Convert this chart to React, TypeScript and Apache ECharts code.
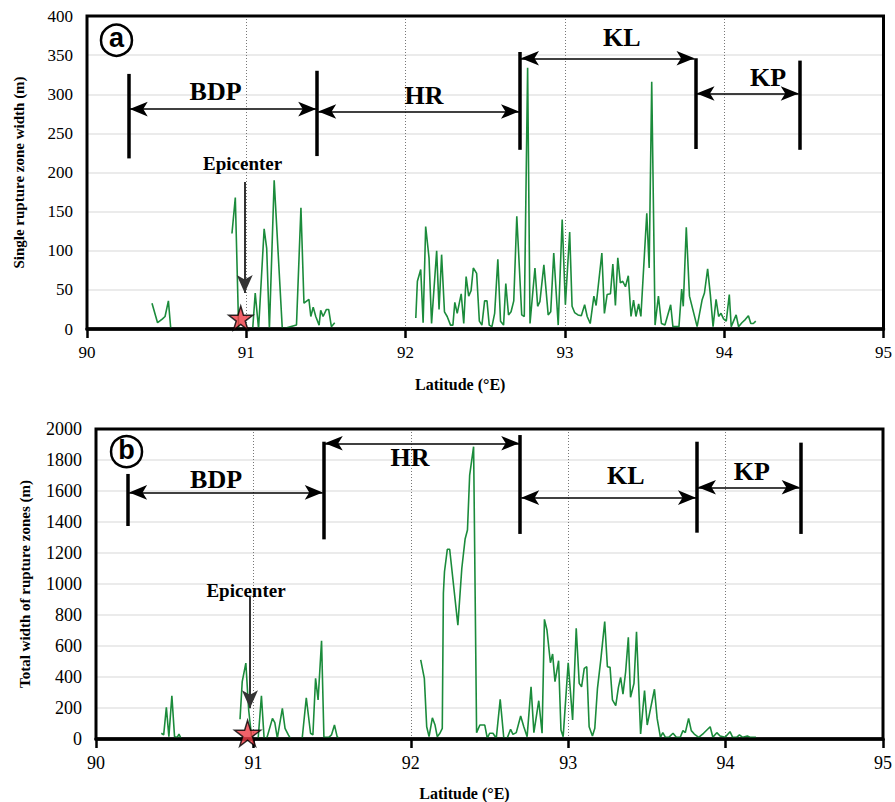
import React, { useEffect, useRef } from 'react';
import * as echarts from 'echarts';

// ---------- (a) Single rupture zone width ----------
const latA: number[] = [
  90.408, 90.443, 90.474, 90.49, 90.511, 90.526, 90.7,
  90.91, 90.931, 90.952, 91.04, 91.056, 91.077, 91.112, 91.128, 91.145, 91.175, 91.226, 91.315,
  91.343, 91.362, 91.393, 91.405, 91.42, 91.436, 91.457, 91.467, 91.482, 91.503, 91.517, 91.534, 91.555, 91.8,
  92.064, 92.074, 92.095, 92.11, 92.126, 92.147, 92.163, 92.195, 92.21, 92.226, 92.244, 92.261, 92.282, 92.297,
  92.309, 92.324, 92.349, 92.365, 92.38, 92.396, 92.411, 92.425, 92.446, 92.463, 92.479, 92.496, 92.511, 92.525,
  92.542, 92.559, 92.579, 92.596, 92.615, 92.629, 92.646, 92.662, 92.679, 92.698, 92.729, 92.745, 92.766, 92.781,
  92.812, 92.829, 92.843, 92.868, 92.895, 92.911, 92.93, 92.958, 92.983, 93.003, 93.03, 93.045, 93.061, 93.082,
  93.103, 93.124, 93.14, 93.159, 93.182, 93.196, 93.232, 93.248, 93.265, 93.286, 93.301, 93.317, 93.332, 93.348,
  93.363, 93.38, 93.398, 93.415, 93.431, 93.446, 93.463, 93.477, 93.514, 93.529, 93.545, 93.566, 93.587, 93.606,
  93.628, 93.664, 93.678, 93.716, 93.733, 93.743, 93.762, 93.782, 93.83, 93.861, 93.876, 93.896, 93.913, 93.93,
  93.949, 93.965, 93.98, 93.996, 94.013, 94.032, 94.044, 94.075, 94.09, 94.111, 94.132, 94.152, 94.167, 94.183, 94.198,
];
const widthA: (number | null)[] = [
  33, 8, 13, 16, 36, 0, null,
  122, 168, 0, 0, 46, 0, 128, 103, 0, 190, 0, 5,
  155, 33, 38, 16, 28, 16, 5, 24, 16, 25, 25, 3, 8, null,
  14, 61, 76, 8, 131, 91, 7, 100, 25, 95, 22, 16, 5, 5,
  34, 20, 45, 7, 67, 42, 49, 78, 71, 10, 5, 36, 36, 5,
  3, 20, 89, 10, 5, 58, 18, 22, 36, 144, 18, 16, 334, 7,
  78, 29, 35, 82, 18, 22, 97, 5, 140, 31, 124, 29, 21, 18,
  17, 31, 16, 7, 42, 30, 97, 20, 44, 45, 83, 30, 91, 59,
  61, 54, 68, 16, 37, 16, 32, 16, 148, 78, 316, 5, 42, 7,
  5, 31, 3, 3, 51, 29, 130, 42, 3, 37, 46, 77, 44, 3,
  38, 16, 20, 13, 10, 44, 3, 18, 3, 8, 12, 17, 7, 7, 10,
];

// ---------- (b) Total width of rupture zones ----------
const latB: number[] = [
  90.415, 90.43, 90.447, 90.463, 90.482, 90.499, 90.516, 90.527, 90.542, 90.7,
  90.915, 90.929, 90.952, 90.97, 90.99, 91.03, 91.051, 91.068, 91.085, 91.121, 91.136, 91.152, 91.184, 91.201,
  91.222, 91.237, 91.27,
  91.31, 91.336, 91.363, 91.378, 91.395, 91.411, 91.433, 91.448, 91.479, 91.496, 91.515, 91.532, 91.547, 91.8,
  92.063, 92.086, 92.101, 92.116, 92.137, 92.154, 92.168, 92.185, 92.2, 92.207, 92.214, 92.232, 92.247, 92.299,
  92.324, 92.345, 92.36, 92.374, 92.399, 92.418, 92.439, 92.47, 92.486, 92.501, 92.522, 92.543, 92.568, 92.591,
  92.612, 92.634, 92.649, 92.67, 92.698, 92.718, 92.739, 92.764, 92.782, 92.813, 92.834, 92.849, 92.865, 92.887,
  92.901, 92.916, 92.939, 92.954, 92.968, 93.0, 93.028, 93.051, 93.07, 93.085, 93.102, 93.118, 93.133, 93.154,
  93.169, 93.186, 93.207, 93.232, 93.249, 93.266, 93.281, 93.302, 93.319, 93.333, 93.348, 93.365, 93.382, 93.396,
  93.418, 93.434, 93.46, 93.485, 93.502, 93.548, 93.565, 93.586, 93.601, 93.618, 93.639, 93.666, 93.687, 93.712,
  93.729, 93.744, 93.765, 93.782, 93.801, 93.829, 93.86, 93.902, 93.919, 93.944, 93.965, 93.997, 94.028, 94.045,
  94.07, 94.088, 94.109, 94.138, 94.155, 94.193,
];
const widthB: (number | null)[] = [
  37, 26, 204, 15, 279, 15, 11, 32, 0, null,
  127, 370, 490, 187, 0, 0, 279, 5, 5, 133, 105, 5, 198, 69,
  26, 0, null,
  5, 266, 37, 26, 392, 252, 634, 11, 11, 26, 90, 15, 0, null,
  510, 391, 79, 15, 137, 90, 15, 37, 69, 940, 1079, 1224, 1224, 735,
  1100, 1290, 1348, 1703, 1886, 41, 90, 90, 5, 37, 37, 5, 256, 5,
  5, 63, 30, 41, 148, 79, 15, 337, 41, 247, 37, 772, 703, 492,
  548, 370, 505, 58, 15, 492, 123, 714, 359, 337, 456, 466, 79, 19,
  69, 327, 510, 757, 466, 462, 252, 215, 333, 398, 290, 434, 656, 269,
  359, 692, 32, 312, 90, 321, 133, 11, 41, 11, 11, 37, 11, 11,
  54, 41, 133, 54, 32, 11, 37, 79, 11, 41, 19, 11, 47, 11,
  11, 26, 11, 19, 11, 11,
];

const epicenterA = [90.965, 14];
const epicenterB = [90.963, 37];

// segment boundaries (lat) and their annotation heights
const boundsA = [
  { x: 90.262, y1: 218, y2: 326 },
  { x: 91.445, y1: 221, y2: 330 },
  { x: 92.718, y1: 229, y2: 354 },
  { x: 93.82, y1: 230, y2: 346 },
  { x: 94.474, y1: 229, y2: 343 },
];
const arrowsA = [
  { from: 90.262, to: 91.445, y: 281 },
  { from: 91.445, to: 92.718, y: 278 },
  { from: 92.718, to: 93.82, y: 346 },
  { from: 93.82, to: 94.474, y: 301 },
];
const labelsA = [
  { text: 'BDP', x: 90.807, y: 304 },
  { text: 'HR', x: 92.116, y: 299 },
  { text: 'KL', x: 93.357, y: 372 },
  { text: 'KP', x: 94.275, y: 322 },
];
const boundsB = [
  { x: 90.204, y1: 1374, y2: 1710 },
  { x: 91.447, y1: 1288, y2: 1918 },
  { x: 92.695, y1: 1323, y2: 1961 },
  { x: 93.818, y1: 1331, y2: 1918 },
  { x: 94.477, y1: 1323, y2: 1912 },
];
const arrowsB = [
  { from: 90.204, to: 91.447, y: 1591 },
  { from: 91.447, to: 92.695, y: 1908 },
  { from: 92.695, to: 93.818, y: 1557 },
  { from: 93.818, to: 94.477, y: 1624 },
];
const labelsB = [
  { text: 'BDP', x: 90.763, y: 1671 },
  { text: 'HR', x: 91.995, y: 1814 },
  { text: 'KL', x: 93.366, y: 1703 },
  { text: 'KP', x: 94.166, y: 1725 },
];

const SERIF = "'Liberation Serif', 'Times New Roman', serif";
const GREEN = '#1b8b3b';
const STAR = 'path://M50,0 L61,35 L98,35 L68,57 L79,91 L50,70 L21,91 L32,57 L2,35 L39,35 Z';

function toPairs(xs: number[], ys: (number | null)[]) {
  return xs.map((x, i) => [x, ys[i] == null ? '-' : ys[i]]);
}

function buildMarkLines(bounds: any[], arrows: any[], tip: number, epi: { x: number; y1: number; y2: number }) {
  const data: any[] = [];
  bounds.forEach((b) => {
    data.push([
      { coord: [b.x, b.y1], symbol: 'none', lineStyle: { color: '#000', width: 3.5, type: 'solid' } },
      { coord: [b.x, b.y2], symbol: 'none', lineStyle: { color: '#000', width: 3.5, type: 'solid' } },
    ]);
  });
  arrows.forEach((a) => {
    data.push([
      { coord: [a.from + tip, a.y], symbol: 'arrow', symbolSize: [11, 18], lineStyle: { color: '#000', width: 1.5, type: 'solid' } },
      { coord: [a.to - tip, a.y], symbol: 'arrow', symbolSize: [11, 18], lineStyle: { color: '#000', width: 1.5, type: 'solid' } },
    ]);
  });
  data.push([
    { coord: [epi.x, epi.y1], symbol: 'none', lineStyle: { color: '#333', width: 2, type: 'solid' } },
    { coord: [epi.x, epi.y2], symbol: 'arrow', symbolSize: [12, 18], lineStyle: { color: '#333', width: 2, type: 'solid' } },
  ]);
  return data;
}

function textPoint(text: string, x: number, y: number, size: number) {
  return {
    coord: [x, y],
    symbol: 'circle',
    symbolSize: 1,
    itemStyle: { color: 'rgba(0,0,0,0)' },
    label: {
      show: true,
      position: 'inside',
      formatter: text,
      fontFamily: SERIF,
      fontWeight: 'bold',
      fontSize: size,
      color: '#000',
    },
  };
}

function circlePoint(letter: string, x: number, y: number) {
  return {
    coord: [x, y],
    symbol: 'circle',
    symbolSize: 31,
    itemStyle: { color: '#fff', borderColor: '#000', borderWidth: 2.5 },
    label: {
      show: true,
      position: 'inside',
      formatter: letter,
      fontFamily: "'Liberation Sans', Arial, sans-serif",
      fontWeight: 'bold',
      fontSize: 27,
      color: '#000',
      offset: [0, -2],
    },
  };
}

function xAxisCfg(gridIndex: number, nameGap: number, labelSize: number) {
  return {
    type: 'value',
    gridIndex,
    min: 90,
    max: 95,
    interval: 1,
    name: 'Latitude (°E)',
    nameLocation: 'middle',
    nameGap,
    nameTextStyle: { fontFamily: SERIF, fontWeight: 'bold', fontSize: 16, color: '#000', padding: [0, 50, 0, 0] },
    axisLine: { show: true, lineStyle: { color: '#000', width: 3.5 } },
    axisTick: { show: true, inside: false, length: 9, lineStyle: { color: '#000', width: 2.5 } },
    axisLabel: { fontFamily: SERIF, fontSize: labelSize, color: '#000', margin: 15, formatter: (v: number) => String(v) },
    splitLine: { show: true, lineStyle: { color: '#777', width: 1, type: [1, 2] } },
  };
}

function yAxisCfg(gridIndex: number, max: number, interval: number, name: string, nameGap: number, labelSize: number) {
  return {
    type: 'value',
    gridIndex,
    min: 0,
    max,
    interval,
    name,
    nameLocation: 'middle',
    nameGap,
    nameTextStyle: { fontFamily: SERIF, fontWeight: 'bold', fontSize: 15, color: '#000' },
    axisLine: { show: false },
    axisTick: { show: false },
    axisLabel: { fontFamily: SERIF, fontSize: labelSize, color: '#000', margin: 14, formatter: (v: number) => String(v) },
    splitLine: { show: true, lineStyle: { color: '#e4e4e4', width: 1.5 } },
  };
}

export default function App() {
  const ref = useRef<HTMLDivElement>(null);
  useEffect(() => {
    if (!ref.current) return;
    const chart = echarts.init(ref.current, undefined, { renderer: 'svg' });
    const tipA = 1 / 160.4;
    const tipB = 1 / 158.2;
    chart.setOption({
      animation: false,
      backgroundColor: '#fff',
      textStyle: { fontFamily: SERIF },
      grid: [
        { left: 87, top: 16, width: 802, height: 313, show: true, borderColor: '#000', borderWidth: 3, z: 5, backgroundColor: 'rgba(0,0,0,0)' },
        { left: 96, top: 429, width: 791, height: 310, show: true, borderColor: '#000', borderWidth: 3, z: 5, backgroundColor: 'rgba(0,0,0,0)' },
      ],
      xAxis: [xAxisCfg(0, 47, 17), xAxisCfg(1, 46, 18)],
      yAxis: [
        yAxisCfg(0, 400, 50, 'Single rupture zone width (m)', 61, 17),
        yAxisCfg(1, 2000, 200, 'Total width of rupture zones (m)', 64, 18),
      ],
      series: [
        {
          type: 'line',
          xAxisIndex: 0,
          yAxisIndex: 0,
          data: toPairs(latA, widthA),
          showSymbol: false,
          connectNulls: false,
          lineStyle: { color: GREEN, width: 1.6 },
          itemStyle: { color: GREEN },
          markLine: {
            silent: true,
            label: { show: false },
            data: buildMarkLines(boundsA, arrowsA, tipA, { x: 90.99, y1: 188, y2: 46 }),
          },
          markPoint: {
            silent: true,
            data: [
              ...labelsA.map((l) => textPoint(l.text, l.x, l.y, 26)),
              textPoint('Epicenter', 90.977, 212, 19),
              circlePoint('a', 90.185, 369),
            ],
          },
        },
        {
          type: 'line',
          xAxisIndex: 1,
          yAxisIndex: 1,
          data: toPairs(latB, widthB),
          showSymbol: false,
          connectNulls: false,
          lineStyle: { color: GREEN, width: 1.6 },
          itemStyle: { color: GREEN },
          markLine: {
            silent: true,
            label: { show: false },
            data: buildMarkLines(boundsB, arrowsB, tipB, { x: 90.978, y1: 918, y2: 198 }),
          },
          markPoint: {
            silent: true,
            data: [
              ...labelsB.map((l) => textPoint(l.text, l.x, l.y, 26)),
              textPoint('Epicenter', 90.953, 961, 19),
              circlePoint('b', 90.194, 1854),
            ],
          },
        },
        {
          type: 'scatter',
          xAxisIndex: 0,
          yAxisIndex: 0,
          data: [epicenterA],
          symbol: STAR,
          symbolSize: 24,
          z: 6,
          itemStyle: { color: '#ee3b45', borderColor: '#000', borderWidth: 1.5 },
        },
        {
          type: 'scatter',
          xAxisIndex: 1,
          yAxisIndex: 1,
          data: [epicenterB],
          symbol: STAR,
          symbolSize: 26,
          z: 6,
          itemStyle: { color: '#ee3b45', borderColor: '#000', borderWidth: 1.5 },
        },
      ],
    });
    return () => chart.dispose();
  }, []);
  return <div ref={ref} style={{ position: 'absolute', left: 0, top: 0, width: 895, height: 802 }} />;
}
